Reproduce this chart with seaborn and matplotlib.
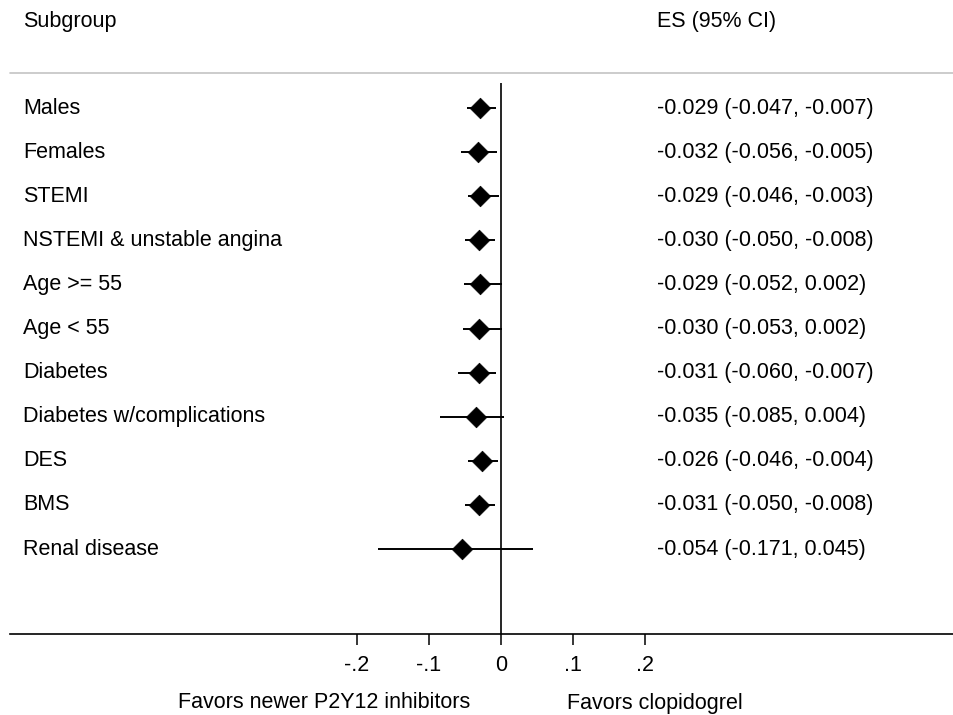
import numpy as np
import pandas as pd
import matplotlib
matplotlib.use("Agg")
import matplotlib.pyplot as plt
from matplotlib.lines import Line2D
import seaborn as sns

subgroups = ["Males", "Females", "STEMI", "NSTEMI & unstable angina", "Age >= 55",
             "Age < 55", "Diabetes", "Diabetes w/complications", "DES", "BMS",
             "Renal disease"]
es = [-0.029, -0.032, -0.029, -0.030, -0.029, -0.030, -0.031, -0.035, -0.026, -0.031, -0.054]
lower = [-0.047, -0.056, -0.046, -0.050, -0.052, -0.053, -0.060, -0.085, -0.046, -0.050, -0.171]
upper = [-0.007, -0.005, -0.003, -0.008, 0.002, 0.002, -0.007, 0.004, -0.004, -0.008, 0.045]
xticks = [-0.2, -0.1, 0, 0.1, 0.2]
xticklabels = ["-.2", "-.1", "0", ".1", ".2"]
header_left = "Subgroup"
header_right = "ES (95% CI)"
xlabel_left = "Favors newer P2Y12 inhibitors"
xlabel_right = "Favors clopidogrel"

sns.set_style("white")
plt.rcParams['font.family'] = ['Liberation Sans', 'DejaVu Sans']
plt.rcParams['text.color'] = 'black'
plt.rcParams['xtick.color'] = 'black'
plt.rcParams['xtick.labelcolor'] = 'black'
FS = 15.5

W, H = 954, 715
fig = plt.figure(figsize=(W / 100, H / 100), dpi=100)
x0_px, px_per_unit = 501, 720.0
row0_px, row_px = 108, 44.1
ax_top, ax_bot, ax_left, ax_right = 83, 634, 10, 953
ax = fig.add_axes([ax_left / W, (H - ax_bot) / H, (ax_right - ax_left) / W, (ax_bot - ax_top) / H])

def px2x(p):
    return (p - x0_px) / px_per_unit

def px2row(p):
    return (p - row0_px) / row_px

df = pd.DataFrame(dict(subgroup=subgroups, es=es, lo=lower, hi=upper,
                       row=np.arange(len(subgroups))))

ax.hlines(df["row"], df["lo"], df["hi"], color="black", lw=1.4, zorder=2)
sns.scatterplot(data=df, x="es", y="row", marker="D", s=110, color="black",
                edgecolor="black", linewidth=0.5, ax=ax, zorder=3, legend=False)
ax.axvline(0, color="black", lw=1.2, zorder=1)

ax.set_xlim(px2x(ax_left), px2x(ax_right))
ax.set_ylim(px2row(ax_bot), px2row(ax_top))

for s in ["top", "right", "left"]:
    ax.spines[s].set_visible(False)
ax.spines["bottom"].set_linewidth(1.2)
ax.spines["bottom"].set_color("black")
ax.set_xticks(xticks, xticklabels)
ax.set_yticks([])
ax.tick_params(axis="x", bottom=True, length=8, width=1.1, pad=7, labelsize=FS,
               color="black", labelcolor="black", direction="out")
ax.set_xlabel("")
ax.set_ylabel("")

for r, (name, e, l, u) in enumerate(zip(subgroups, es, lower, upper)):
    ax.text(px2x(23), r, name, ha="left", va="center", fontsize=FS, clip_on=False, color="black")
    ax.text(px2x(657), r, f"{e:.3f} ({l:.3f}, {u:.3f})", ha="left", va="center",
            fontsize=FS, clip_on=False, color="black")

fig.text(23 / W, 1 - 22 / H, header_left, ha="left", va="center", fontsize=FS, color="black")
fig.text(657 / W, 1 - 22 / H, header_right, ha="left", va="center", fontsize=FS, color="black")
fig.add_artist(Line2D([10 / W, 1.0], [1 - 73 / H, 1 - 73 / H], color="#c4c4c4", lw=1.2))

fig.text(470 / W, 1 - 703 / H, xlabel_left, ha="right", va="center", fontsize=FS, color="black")
fig.text(567 / W, 1 - 703 / H, xlabel_right, ha="left", va="center", fontsize=FS, color="black")

fig.savefig("out.png", dpi=100, facecolor="white")
